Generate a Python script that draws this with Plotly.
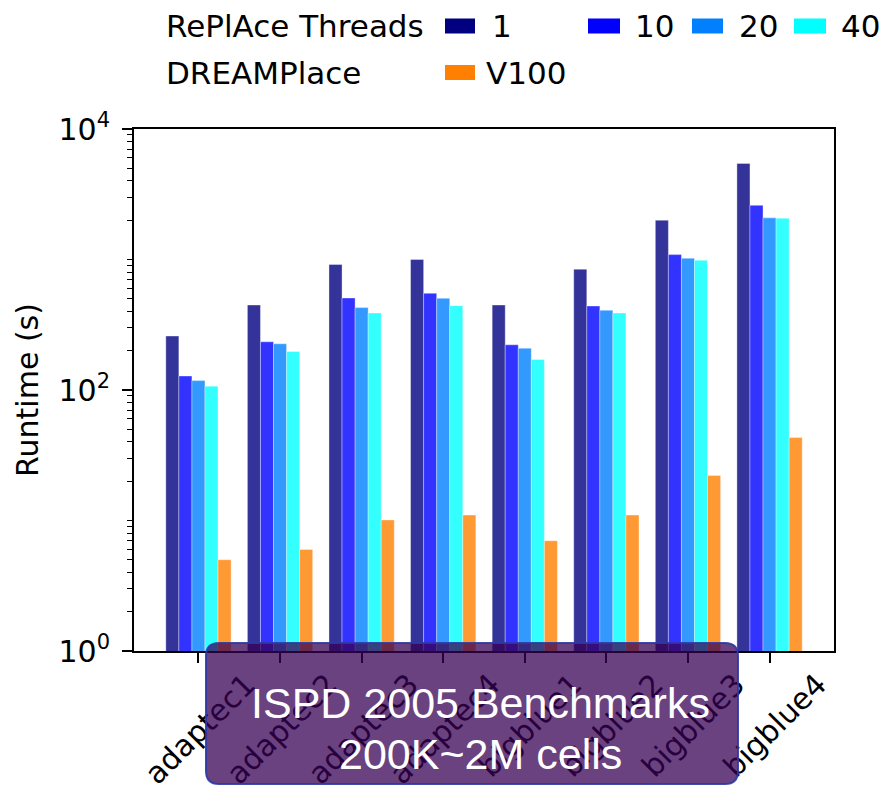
import plotly.graph_objects as go

# ---------------- data ----------------
categories = ["adaptec1", "adaptec2", "adaptec3", "adaptec4",
              "bigblue1", "bigblue2", "bigblue3", "bigblue4"]
replace_1 = [259, 448, 915, 1000, 448, 842, 2000, 5450]
replace_10 = [128, 234, 507, 551, 222, 440, 1090, 2600]
replace_20 = [118, 226, 428, 504, 209, 408, 1023, 2085]
replace_40 = [107, 197, 389, 443, 171, 389, 987, 2075]
dreamplace_v100 = [5.0, 6.0, 10.1, 11.0, 7.0, 11.0, 22.1, 43.2]

series_names = ["1", "10", "20", "40", "V100"]
series_values = [replace_1, replace_10, replace_20, replace_40, dreamplace_v100]
series_colors = ["#000080", "#0000ff", "#0080ff", "#00ffff", "#ff8000"]
y_tick_vals = [1, 100, 10000]
y_tick_text = ["10<sup>0</sup>", "10<sup>2</sup>", "10<sup>4</sup>"]
box_lines = ["ISPD 2005 Benchmarks", "200K~2M cells"]

# ---------------- geometry helpers ----------------
W, H = 889, 790
L, R, T, B = 134, 834, 129, 651


def px(x):
    return (x - L) / (R - L)


def py(y):
    return (B - y) / (B - T)


def rgba(hexc, a):
    h = hexc.lstrip("#")
    r, g, b = int(h[0:2], 16), int(h[2:4], 16), int(h[4:6], 16)
    return f"rgba({r},{g},{b},{a})"


FONT = "DejaVu Sans"

fig = go.Figure()
for name, vals, col in zip(series_names, series_values, series_colors):
    fig.add_trace(go.Bar(
        x=categories, y=vals, name=name,
        marker=dict(color=rgba(col, 0.8),
                    line=dict(color="rgba(255,255,255,0.45)", width=0.8)),
        showlegend=False,
    ))

minor_vals = [m * 10 ** k for k in range(4) for m in range(2, 10)] + [10, 1000]

fig.update_layout(
    width=W, height=H,
    margin=dict(l=L, r=W - R, t=T, b=H - B, autoexpand=False),
    paper_bgcolor="white", plot_bgcolor="white",
    barmode="group", bargap=0.2, bargroupgap=0,
    font=dict(family=FONT, color="black", size=30),
    xaxis=dict(
        range=[-0.79, 7.79], showline=True, linecolor="black", linewidth=2,
        mirror=True, ticks="outside", ticklen=10, tickwidth=1.5,
        tickcolor="black", tickangle=-45, tickfont=dict(size=30),
        ticklabelshift=48, ticklabelstandoff=-8, showgrid=False,
        automargin=False,
    ),
    yaxis=dict(
        type="log", range=[0, 4], showline=True, linecolor="black",
        linewidth=2, mirror=True, ticks="outside", ticklen=10,
        tickwidth=1.5, tickcolor="black", tickmode="array",
        tickvals=y_tick_vals, ticktext=y_tick_text,
        tickfont=dict(size=30), showgrid=False, automargin=False,
        ticklabelstandoff=6,
        minor=dict(ticks="outside", ticklen=5, tickwidth=1.2,
                   tickcolor="black", tickmode="array", tickvals=minor_vals,
                   showgrid=False),
        title=dict(text="Runtime (s)", font=dict(size=30), standoff=11),
    ),
)

# ---------------- manual legend ----------------
legend_rows = [
    ("RePlAce Threads", 26, [(445, 475, 0, 491), (588, 620, 1, 634),
                             (692, 723, 2, 738), (794, 826, 3, 840)]),
    ("DREAMPlace", 72.5, [(445, 475, 4, 485)]),
]
for label, yc, items in legend_rows:
    fig.add_annotation(xref="paper", yref="paper", x=px(165), y=py(yc),
                       xanchor="left", yanchor="middle", text=label,
                       showarrow=False, borderpad=0,
                       font=dict(size=31, family=FONT, color="black"))
    for x0, x1, idx, tx in items:
        fig.add_shape(type="rect", xref="paper", yref="paper",
                      x0=px(x0), x1=px(x1), y0=py(yc - 7.5), y1=py(yc + 7.5),
                      fillcolor=series_colors[idx], line=dict(width=0))
        fig.add_annotation(xref="paper", yref="paper", x=px(tx), y=py(yc),
                           xanchor="left", yanchor="middle",
                           text=series_names[idx], showarrow=False,
                           borderpad=0,
                           font=dict(size=31, family=FONT, color="black"))

# ---------------- overlay box ----------------
bx0, bx1, by0, by1, rad = 206, 738, 643, 784, 13


def P(x, y):
    return f"{px(x):.5f},{py(y):.5f}"


path = (f"M {P(bx0 + rad, by0)} L {P(bx1 - rad, by0)} "
        f"Q {P(bx1, by0)} {P(bx1, by0 + rad)} L {P(bx1, by1 - rad)} "
        f"Q {P(bx1, by1)} {P(bx1 - rad, by1)} L {P(bx0 + rad, by1)} "
        f"Q {P(bx0, by1)} {P(bx0, by1 - rad)} L {P(bx0, by0 + rad)} "
        f"Q {P(bx0, by0)} {P(bx0 + rad, by0)} Z")
fig.add_shape(type="path", path=path, xref="paper", yref="paper",
              fillcolor="rgba(54,0,82,0.74)",
              line=dict(color="rgba(45,55,165,0.9)", width=2), layer="above")

for text, yc in zip(box_lines, [703, 754]):
    fig.add_annotation(xref="paper", yref="paper", x=px(480), y=py(yc),
                       xanchor="center", yanchor="middle", text=text,
                       showarrow=False, borderpad=0,
                       font=dict(size=43, family="Liberation Sans",
                                 color="white"))

fig.write_html(
    "out.html",
    config={"displayModeBar": False},
    post_script="document.body.style.margin='0';"
                "document.body.style.overflow='hidden';",
)
